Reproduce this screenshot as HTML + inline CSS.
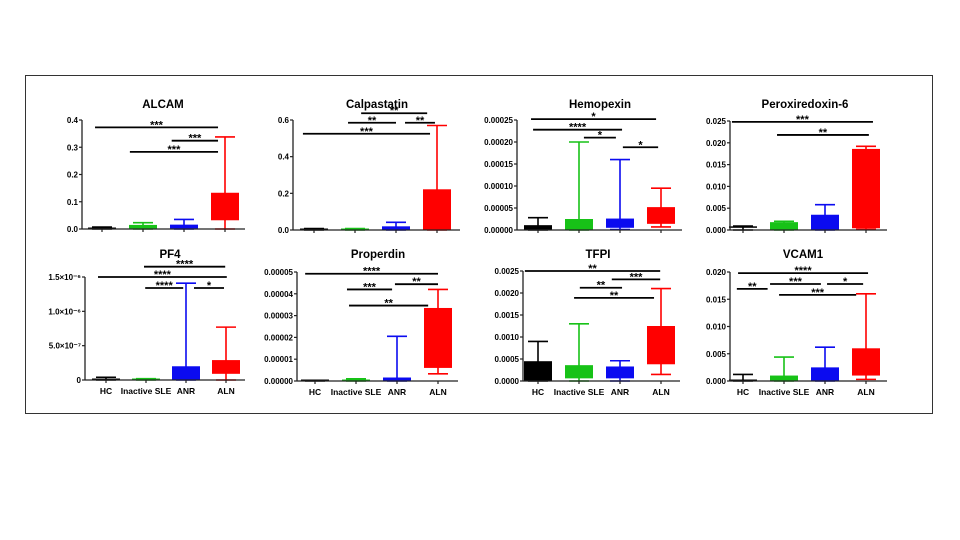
<!DOCTYPE html>
<html><head><meta charset="utf-8"><style>
html,body{margin:0;padding:0;background:#fff;}
svg{display:block;font-family:"Liberation Sans",Arial,sans-serif;}
</style></head><body>
<svg id="fig" width="960" height="540" viewBox="0 0 960 540">
<rect x="25.5" y="75.5" width="907" height="338" fill="none" stroke="#333" stroke-width="1"/>
</svg>
<script>
const categories = ["HC", "Inactive SLE", "ANR", "ALN"];
const colors = ["#000000", "#17c217", "#0b0bf0", "#ff0000"];
const titles = ["ALCAM","Calpastatin","Hemopexin","Peroxiredoxin-6","PF4","Properdin","TFPI","VCAM1"];
const yMax = [0.4, 0.6, 0.00025, 0.025, 1.5e-6, 0.00005, 0.0025, 0.020];
const yTickValues = [
 [0,0.1,0.2,0.3,0.4],[0,0.2,0.4,0.6],[0,0.00005,0.0001,0.00015,0.0002,0.00025],
 [0,0.005,0.01,0.015,0.02,0.025],[0,5e-7,1e-6,1.5e-6],[0,0.00001,0.00002,0.00003,0.00004,0.00005],
 [0,0.0005,0.001,0.0015,0.002,0.0025],[0,0.005,0.01,0.015,0.02]];
const yTickLabels = [
 ["0.0","0.1","0.2","0.3","0.4"],["0.0","0.2","0.4","0.6"],
 ["0.00000","0.00005","0.00010","0.00015","0.00020","0.00025"],
 ["0.000","0.005","0.010","0.015","0.020","0.025"],
 ["0","5.0×10⁻⁷","1.0×10⁻⁶","1.5×10⁻⁶"],
 ["0.00000","0.00001","0.00002","0.00003","0.00004","0.00005"],
 ["0.0000","0.0005","0.0010","0.0015","0.0020","0.0025"],
 ["0.000","0.005","0.010","0.015","0.020"]];
// per panel, per group: [min, q1, q3, max]
const boxStats = [
 [[0,0,0.004,0.007],[0,0.002,0.015,0.023],[0,0.002,0.016,0.035],[0,0.032,0.133,0.338]],
 [[0,0,0.004,0.008],[0,0,0.005,0.008],[0,0.002,0.02,0.042],[0,0,0.222,0.57]],
 [[0,0,0.000011,0.000028],[0,0,0.000025,0.0002],[0.000001,0.000005,0.000026,0.00016],[0.000007,0.000014,0.000052,0.000095]],
 [[0,0.0005,0.0008,0.0009],[0,0,0.0018,0.002],[0,0,0.0035,0.0058],[0.0002,0.0004,0.0186,0.0192]],
 [[0,0,0.01e-6,0.04e-6],[0,0,0.01e-6,0.02e-6],[0,0,0.2e-6,1.41e-6],[0,0.09e-6,0.29e-6,0.77e-6]],
 [[0,0,0.0000002,0.0000003],[0,0,0.0000006,0.000001],[0,0,0.0000016,0.0000205],[0.0000033,0.000006,0.0000335,0.000042]],
 [[0,0,0.00045,0.0009],[0,0.00006,0.00036,0.0013],[0,0.00006,0.00033,0.00046],[0.00015,0.00038,0.00125,0.0021]],
 [[0,0,0.00005,0.0012],[0,0,0.001,0.0044],[0,0,0.0025,0.0062],[0.0003,0.001,0.006,0.016]]];
// significance brackets: [fromCat, toCat, yValue, stars]
const brackets = [
 [[-0.17,2.83,0.373,"***"],[1.7,2.83,0.324,"***"],[0.68,2.83,0.283,"***"]],
 [[1.15,2.76,0.637,"**"],[0.83,2.0,0.585,"**"],[2.22,2.95,0.585,"**"],[-0.27,2.83,0.525,"***"]],
 [[-0.17,2.88,0.000252,"*"],[-0.12,2.05,0.000228,"****"],[1.12,1.9,0.00021,"*"],[2.07,2.93,0.000188,"*"]],
 [[-0.27,3.17,0.0248,"***"],[0.83,3.07,0.0218,"**"]],
 [[0.95,2.98,1.65e-6,"****"],[-0.2,3.02,1.5e-6,"****"],[0.98,1.93,1.34e-6,"****"],[2.2,2.95,1.34e-6,"*"]],
 [[-0.24,3.0,0.0000492,"****"],[1.95,3.0,0.0000444,"**"],[0.78,1.88,0.000042,"***"],[0.83,2.76,0.0000346,"**"]],
 [[-0.32,2.98,0.0025,"**"],[1.8,2.98,0.00231,"***"],[1.02,2.05,0.00212,"**"],[0.88,2.83,0.00189,"**"]],
 [[-0.12,3.05,0.0198,"****"],[-0.15,0.6,0.0169,"**"],[0.66,1.9,0.0178,"***"],[2.05,2.93,0.0178,"*"],[0.88,2.76,0.0158,"***"]]];

// layout (pixels)
const layout = [
 {ax:82,top:120,bot:229,c0:102,sp:41,end:245,tx:163,ty:108},
 {ax:293,top:120,bot:230,c0:314,sp:41,end:460,tx:377,ty:108},
 {ax:517,top:120,bot:230,c0:538,sp:41,end:682,tx:600,ty:108},
 {ax:730,top:121,bot:230,c0:743,sp:41,end:887,tx:805,ty:108},
 {ax:85,top:277,bot:380,c0:106,sp:40,end:245,tx:170,ty:258},
 {ax:297,top:272,bot:381,c0:315,sp:41,end:458,tx:378,ty:258},
 {ax:523,top:271,bot:381,c0:538,sp:41,end:680,tx:598,ty:258},
 {ax:730,top:272,bot:381,c0:743,sp:41,end:887,tx:803,ty:258}];

const NS="http://www.w3.org/2000/svg";
const svg=document.getElementById("fig");
function mk(tag,attrs,parent,text){const e=document.createElementNS(NS,tag);for(const k in attrs)e.setAttribute(k,attrs[k]);if(text!==undefined)e.textContent=text;parent.appendChild(e);return e;}

titles.forEach((t,p)=>{
 const L=layout[p];
 const g=mk("g",{},svg);
 
 
 const y=v=>L.bot-(v/yMax[p])*(L.bot-L.top);
 const x=c=>L.c0+c*L.sp;
 const tt=mk("text",{x:L.tx,y:L.ty,"text-anchor":"middle","font-size":"11.5","font-weight":"bold"},g,t);
 
 
 boxStats[p].forEach((s,i)=>{
  const cx=x(i),col=colors[i],bw=28,cw=20;
  const bg=mk("g",{},g);
  
  
  mk("line",{x1:cx,x2:cx,y1:y(s[0]),y2:y(s[3]),stroke:col,"stroke-width":1.6},bg);
  mk("line",{x1:cx-cw/2,x2:cx+cw/2,y1:y(s[3]),y2:y(s[3]),stroke:col,"stroke-width":1.6},bg);
  mk("line",{x1:cx-cw/2,x2:cx+cw/2,y1:y(s[0]),y2:y(s[0]),stroke:col,"stroke-width":1.6},bg);
  const h=Math.max(y(s[1])-y(s[2]),1.5);
  mk("rect",{x:cx-bw/2,y:y(s[1])-h,width:bw,height:h,fill:col},bg);
 });
 const yax=mk("g",{},g);
 
 
 mk("line",{x1:L.ax,x2:L.ax,y1:L.top,y2:L.bot,stroke:"#222","stroke-width":1.3},yax);
 yTickValues[p].forEach((v,k)=>{
  mk("line",{x1:L.ax-3,x2:L.ax,y1:y(v),y2:y(v),stroke:"#222","stroke-width":1.2},yax);
  const tl=mk("text",{x:L.ax-4,y:y(v)+3,"text-anchor":"end","font-size":"8","font-weight":"bold"},yax,yTickLabels[p][k]);
  
  
 });
 const xax=mk("g",{},g);
 
 
 mk("line",{x1:L.ax,x2:L.end,y1:L.bot,y2:L.bot,stroke:"#222","stroke-width":1.3},xax);
 categories.forEach((c,i)=>{
  mk("line",{x1:x(i),x2:x(i),y1:L.bot,y2:L.bot+3,stroke:"#222","stroke-width":1.2},xax);
  if(p>=4){
   const cl=mk("text",{x:x(i),y:L.bot+14,"text-anchor":"middle","font-size":"8.5","font-weight":"bold"},xax,c);
   
   
  }
 });
 brackets[p].forEach(b=>{
  const bg=mk("g",{},g);
  
  
  mk("line",{x1:x(b[0]),x2:x(b[1]),y1:y(b[2]),y2:y(b[2]),stroke:"#000","stroke-width":1.8},bg);
  mk("text",{x:(x(b[0])+x(b[1]))/2,y:y(b[2])+1,"text-anchor":"middle","font-size":"11","font-weight":"bold"},bg,b[3]);
 });
});
</script>
</body></html>
